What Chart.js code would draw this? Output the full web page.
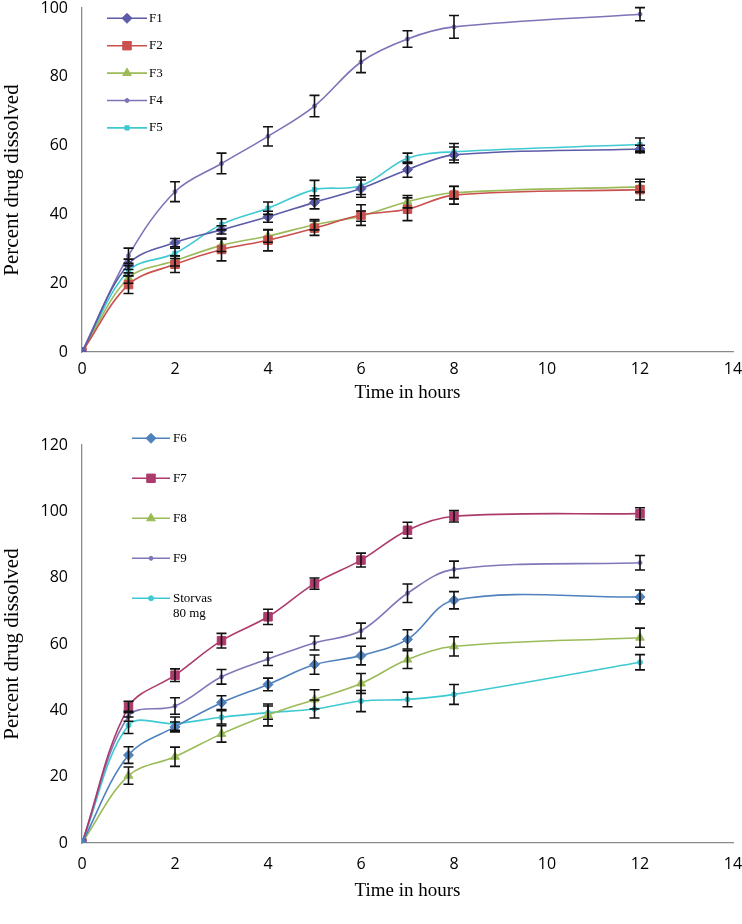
<!DOCTYPE html>
<html>
<head>
<meta charset="utf-8">
<script src="https://cdn.jsdelivr.net/npm/chart.js@4.4.0/dist/chart.umd.min.js"></script>
<style>
html, body { margin: 0; padding: 0; background: #fff; }
#topBox { position: absolute; left: 0; top: 0; }
#bottomBox { position: absolute; left: 0; top: 410px; }
</style>
</head>
<body>
<canvas id="topBox" width="742" height="410"></canvas>
<canvas id="bottomBox" width="742" height="514"></canvas>
<script>
// sampling times (hours)
const hours = [0, 1, 2, 3, 4, 5, 6, 7, 8, 12];

// top panel: F1 - F5
const topNames = ['F1', 'F2', 'F3', 'F4', 'F5'];
const f1 = [0, 25.5, 31.8, 35.5, 39.3, 43.5, 47.5, 53, 57.3, 59];
const f2 = [0, 19.6, 25.5, 29.8, 32.5, 36, 39.8, 41.5, 45.6, 47.2];
const f3 = [0, 21.5, 26.5, 31, 33.7, 37, 39.5, 43.7, 46.3, 48];
const f4 = [0, 28, 46.6, 54.8, 62.7, 71.5, 84.3, 91, 94.5, 98.2];
const f5 = [0, 23.6, 28.7, 37.1, 41.8, 47.2, 48.3, 56.3, 58.2, 60.3];
const f1Err = [0, 1.5, 1.2, 1.2, 1.6, 1.9, 2.5, 2.2, 2.3, 1.1];
const f2Err = [0, 2.6, 2.4, 3.3, 3.1, 2.1, 3, 3.3, 2.6, 3];
const f3Err = [0, 1.5, 1.5, 1.8, 1.8, 1.5, 1.5, 1.8, 1.8, 1.5];
const f4Err = [0, 2.2, 2.9, 3, 2.8, 3.1, 3.1, 2.4, 3.3, 1.9];
const f5Err = [0, 1.5, 1.5, 1.6, 1.8, 2.7, 2.5, 1.5, 2.4, 1.9];

// bottom panel: F6 - F9 and marketed product
const bottomNames = ['F6', 'F7', 'F8', 'F9', 'Storvas 80 mg'];
const f6 = [0, 26.5, 35, 42.3, 47.8, 53.8, 56.5, 61.4, 73.2, 74.2];
const f7 = [0, 41, 50.6, 61, 68.2, 78.2, 85.3, 94.3, 98.5, 99.3];
const f8 = [0, 20.3, 26, 32.9, 38.6, 43.3, 48.1, 55.3, 59.3, 61.9];
const f9 = [0, 38.2, 41.3, 50.1, 55.5, 60.3, 64, 75.3, 82.5, 84.5];
const storvas = [0, 35.5, 36, 37.9, 39.3, 40.4, 42.8, 43.3, 44.8, 54.5];
const f6Err = [0, 2.5, 1.5, 2.1, 1.9, 2.9, 2.8, 2.9, 2.6, 2.1];
const f7Err = [0, 1.7, 1.9, 2.2, 2.3, 1.7, 2.1, 2.4, 1.7, 1.8];
const f8Err = [0, 2.6, 2.9, 2.5, 3.3, 2.9, 3, 2.7, 2.9, 2.9];
const f9Err = [0, 1.5, 2.5, 2.2, 2, 2.1, 2.3, 2.8, 2.5, 2.2];
const storvasErr = [0, 2.5, 2, 2, 2, 2.7, 3.2, 2.2, 3, 2.3];

function series(label, values, errors, color, style, radius) {
    return {
        label: label,
        data: values.map((v, i) => ({ x: hours[i], y: v })),
        errors: errors,
        borderColor: color,
        backgroundColor: color,
        pointBackgroundColor: color,
        pointBorderColor: color,
        pointStyle: style,
        pointRadius: radius,
        pointBorderWidth: 1,
        borderWidth: 1.6,
        tension: 0.35,
        fill: false
    };
}

// black error bars drawn over the lines
const errorBars = {
    id: 'errorBars',
    afterDatasetsDraw(chart) {
        const ctx = chart.ctx;
        const xs = chart.scales.x, ys = chart.scales.y;
        ctx.save();
        ctx.strokeStyle = '#111';
        ctx.lineWidth = 1.6;
        chart.data.datasets.forEach(ds => {
            ds.data.forEach((p, i) => {
                const e = ds.errors[i];
                if (!e) return;
                const px = xs.getPixelForValue(p.x);
                const top = ys.getPixelForValue(p.y + e);
                const bot = ys.getPixelForValue(p.y - e);
                ctx.beginPath();
                ctx.moveTo(px, top); ctx.lineTo(px, bot);
                ctx.moveTo(px - 5, top); ctx.lineTo(px + 5, top);
                ctx.moveTo(px - 5, bot); ctx.lineTo(px + 5, bot);
                ctx.stroke();
            });
        });
        ctx.restore();
    }
};

// excel style legend: short line with marker, then the name
const lineLegend = {
    id: 'lineLegend',
    afterDraw(chart, args, opts) {
        const ctx = chart.ctx;
        chart.data.datasets.forEach((ds, i) => {
            const y = opts.y + i * opts.spacing;
            const x0 = opts.x, x1 = opts.x + opts.lineLength;
            ctx.save();
            ctx.strokeStyle = ds.borderColor;
            ctx.lineWidth = ds.borderWidth;
            ctx.beginPath(); ctx.moveTo(x0, y); ctx.lineTo(x1, y); ctx.stroke();
            ctx.fillStyle = ds.pointBackgroundColor;
            ctx.strokeStyle = ds.pointBorderColor;
            ctx.lineWidth = 1;
            Chart.helpers.drawPoint(ctx, { pointStyle: ds.pointStyle, radius: ds.pointRadius, borderWidth: 1, rotation: 0 }, (x0 + x1) / 2, y);
            ctx.fillStyle = '#000';
            ctx.font = opts.font;
            ctx.textBaseline = 'middle';
            // wrap long names onto a second line
            const words = ds.label.split(' ');
            const lines = [];
            let cur = '';
            words.forEach(w => {
                const t = cur ? cur + ' ' + w : w;
                if (cur && ctx.measureText(t).width > opts.maxWidth) { lines.push(cur); cur = w; } else cur = t;
            });
            lines.push(cur);
            lines.forEach((t, k) => ctx.fillText(t, x1 + opts.gap, y + k * opts.lineHeight));
            ctx.restore();
        });
    }
};

function makeChart(id, datasets, yMax, box, legend) {
    const tickFont = { family: '"Open Sans", sans-serif', size: 16 };
    return new Chart(document.getElementById(id), {
        type: 'line',
        data: { datasets: datasets },
        plugins: [errorBars, lineLegend],
        options: {
            responsive: false,
            animation: false,
            layout: { padding: { left: 0, right: 9, top: box.top, bottom: 0 } },
            plugins: {
                legend: { display: false },
                tooltip: { enabled: false },
                lineLegend: legend
            },
            scales: {
                x: {
                    type: 'linear',
                    min: 0,
                    max: 14,
                    ticks: { stepSize: 2, padding: box.tickPad, color: '#000', font: tickFont, maxRotation: 0 },
                    grid: { display: false, drawTicks: false },
                    border: { display: true, color: '#8a8a8a', width: 1.3 },
                    title: {
                        display: true,
                        text: 'Time in hours',
                        color: '#000',
                        font: { family: '"Liberation Serif", serif', size: 19 },
                        padding: { top: 0, bottom: box.titlePad }
                    },
                    afterFit: s => { s.height = box.xHeight; s.paddingLeft = 0; s.paddingRight = 0; }
                },
                y: {
                    min: 0,
                    max: yMax,
                    ticks: { stepSize: 20, padding: 14, color: '#000', font: tickFont },
                    grid: { display: false, drawTicks: false },
                    border: { display: true, color: '#8a8a8a', width: 1.3 },
                    title: {
                        display: true,
                        text: 'Percent drug dissolved',
                        color: '#000',
                        font: { family: '"Liberation Serif", serif', size: 21 },
                        padding: { top: 0, bottom: 0 }
                    },
                    afterFit: s => { s.width = 82; s.paddingTop = 0; s.paddingBottom = 0; }
                }
            }
        }
    });
}

makeChart('topBox', [
    series(topNames[0], f1, f1Err, '#5b5ba8', 'rectRot', 5),
    series(topNames[1], f2, f2Err, '#c9504d', 'rect', 6),
    series(topNames[2], f3, f3Err, '#9bbb59', 'triangle', 5),
    series(topNames[3], f4, f4Err, '#7b74b8', 'circle', 2),
    series(topNames[4], f5, f5Err, '#3fc9d2', 'rect', 3)
], 100, { top: 8, xHeight: 58, tickPad: 8, titlePad: 5.6 },
   { x: 107, y: 18.3, spacing: 27.4, lineLength: 40, gap: 2, font: '13px "Liberation Serif"', maxWidth: 50, lineHeight: 15 });

makeChart('bottomBox', [
    series(bottomNames[0], f6, f6Err, '#4f81bd', 'rectRot', 5),
    series(bottomNames[1], f7, f7Err, '#ad3a6c', 'rect', 6),
    series(bottomNames[2], f8, f8Err, '#9bbb59', 'triangle', 5),
    series(bottomNames[3], f9, f9Err, '#7e78b8', 'circle', 2),
    series(bottomNames[4], storvas, storvasErr, '#3fc9d2', 'circle', 2.5)
], 120, { top: 35, xHeight: 81, tickPad: 12, titlePad: 21.6 },
   { x: 132, y: 28.3, spacing: 40, lineLength: 38, gap: 3, font: '13px "Liberation Serif"', maxWidth: 50, lineHeight: 15 });
</script>
</body>
</html>
